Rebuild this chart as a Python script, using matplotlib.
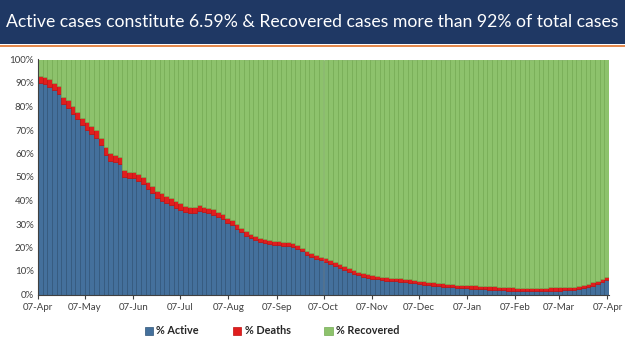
import matplotlib
matplotlib.use("Agg")
import matplotlib.pyplot as plt
import matplotlib.dates as mdates
from matplotlib.patches import Rectangle
import pandas as pd
import numpy as np

# data: share of total cases, one value every 3 days from 07-Apr-2020
start = "2020-04-07"
step_days = 3

active = [
    90.0, 89.5, 88.5, 87.0, 85.5, 81.0, 79.5, 77.0, 74.5, 72.0,
    70.0, 68.5, 66.5, 63.5, 59.5, 57.0, 56.5, 55.5, 50.0, 49.5,
    49.5, 48.5, 47.0, 45.0, 43.0, 41.0, 40.0, 39.0, 38.0, 37.0,
    36.0, 35.0, 34.5, 34.5, 35.5, 35.0, 34.5, 34.0, 33.0, 32.0,
    30.5, 29.5, 28.0, 26.5, 25.0, 24.0, 23.0, 22.3, 22.0, 21.6,
    21.2, 21.0, 20.8, 20.5, 20.2, 19.5, 18.3, 17.0, 16.0, 15.2,
    14.5, 13.8, 13.0, 12.2, 11.3, 10.5, 9.7, 8.9, 8.2, 7.6,
    7.1, 6.7, 6.4, 6.1, 5.9, 5.7, 5.6, 5.5, 5.3, 5.0,
    4.7, 4.4, 4.2, 4.0, 3.8, 3.6, 3.4, 3.2, 3.0, 2.8,
    2.7, 2.6, 2.5, 2.4, 2.3, 2.2, 2.1, 2.0, 1.9, 1.8,
    1.7, 1.6, 1.5, 1.45, 1.4, 1.4, 1.45, 1.5, 1.55, 1.6,
    1.65, 1.7, 1.75, 1.85, 2.0, 2.3, 2.7, 3.2, 3.8, 4.5,
    5.3, 6.2,
]

deaths = [
    2.8, 2.9, 3.0, 3.1, 3.2, 3.2, 3.2, 3.3, 3.3, 3.3,
    3.3, 3.3, 3.3, 3.3, 3.2, 3.1, 3.0, 2.9, 2.8, 2.8,
    2.8, 2.8, 2.9, 3.0, 3.0, 3.0, 3.0, 3.0, 2.9, 2.9,
    2.8, 2.8, 2.7, 2.6, 2.5, 2.4, 2.3, 2.3, 2.2, 2.2,
    2.1, 2.0, 2.0, 1.95, 1.9, 1.85, 1.8, 1.8, 1.77, 1.76,
    1.74, 1.72, 1.7, 1.68, 1.65, 1.62, 1.6, 1.58, 1.57, 1.56,
    1.55, 1.54, 1.54, 1.53, 1.53, 1.52, 1.51, 1.5, 1.5, 1.49,
    1.49, 1.48, 1.48, 1.47, 1.47, 1.47, 1.46, 1.46, 1.46, 1.45,
    1.45, 1.45, 1.45, 1.45, 1.45, 1.45, 1.45, 1.45, 1.45, 1.45,
    1.45, 1.44, 1.44, 1.44, 1.44, 1.44, 1.44, 1.44, 1.44, 1.44,
    1.44, 1.43, 1.43, 1.43, 1.43, 1.42, 1.42, 1.42, 1.41, 1.41,
    1.41, 1.4, 1.4, 1.39, 1.39, 1.38, 1.37, 1.36, 1.35, 1.33,
    1.31, 1.29,
]

dates = pd.date_range(start, periods=len(active), freq=f"{step_days}D")
active = np.array(active)
deaths = np.array(deaths)
recovered = 100.0 - active - deaths

c_active = "#44709c"
c_deaths = "#e01e1e"
c_recov = "#8dc26c"

plt.rcParams['font.family'] = ['Lato', 'DejaVu Sans']

fig = plt.figure(figsize=(6.25, 3.51), dpi=100)

# title banner
fig.patches.append(Rectangle((0, 1 - 44 / 351), 1, 44 / 351, transform=fig.transFigure,
                             facecolor="#1f3864", edgecolor="none", zorder=0))
fig.patches.append(Rectangle((0, 1 - 47 / 351), 1, 2 / 351, transform=fig.transFigure,
                             facecolor="#e58a4e", edgecolor="none", zorder=0))
fig.text(0.5, 1 - 22 / 351, "Active cases constitute 6.59% & Recovered cases more than 92% of total cases",
         color="white", fontsize=12.7, ha="center", va="center")

ax = fig.add_axes([38 / 625, 1 - 294.5 / 351, 571 / 625, 235 / 351])

w = step_days
ax.bar(dates, active, width=w, align="edge", color=c_active,
       edgecolor="#2f5478", linewidth=0.5, label="% Active")
ax.bar(dates, deaths, width=w, align="edge", bottom=active, color=c_deaths,
       edgecolor="#c01010", linewidth=0.5, label="% Deaths")
ax.bar(dates, recovered, width=w, align="edge", bottom=active + deaths, color=c_recov,
       edgecolor="#74ab52", linewidth=0.5, label="% Recovered")

ax.set_xlim(pd.Timestamp("2020-04-07"), pd.Timestamp("2021-04-08"))
ax.set_ylim(0, 100)

ax.set_yticks(np.arange(0, 101, 10))
ax.set_yticklabels([f"{v}%" for v in range(0, 101, 10)])

ticks = pd.date_range("2020-04-01", "2021-04-01", freq="MS") + pd.Timedelta(days=6)
ax.set_xticks(ticks)
ax.xaxis.set_major_formatter(mdates.DateFormatter("%d-%b"))

ax.tick_params(axis="both", labelsize=7, colors="#404040")
ax.tick_params(axis="y", length=0, pad=3)
ax.tick_params(axis="x", length=3, width=0.8, color="#404040", pad=3)

for s in ["top", "right"]:
    ax.spines[s].set_visible(False)
ax.spines["left"].set_color("#404040")
ax.spines["left"].set_linewidth(0.8)
ax.spines["bottom"].set_color("#404040")
ax.spines["bottom"].set_linewidth(0.8)

leg = fig.legend(loc="center", bbox_to_anchor=(272 / 625, 1 - 331 / 351), ncol=3, frameon=False,
                 prop={"size": 7.8, "weight": "bold"}, handlelength=0.8, handleheight=0.8,
                 handletextpad=0.3, columnspacing=3.1)
for t in leg.get_texts():
    t.set_color("#262626")

fig.savefig("out.png", dpi=100)
